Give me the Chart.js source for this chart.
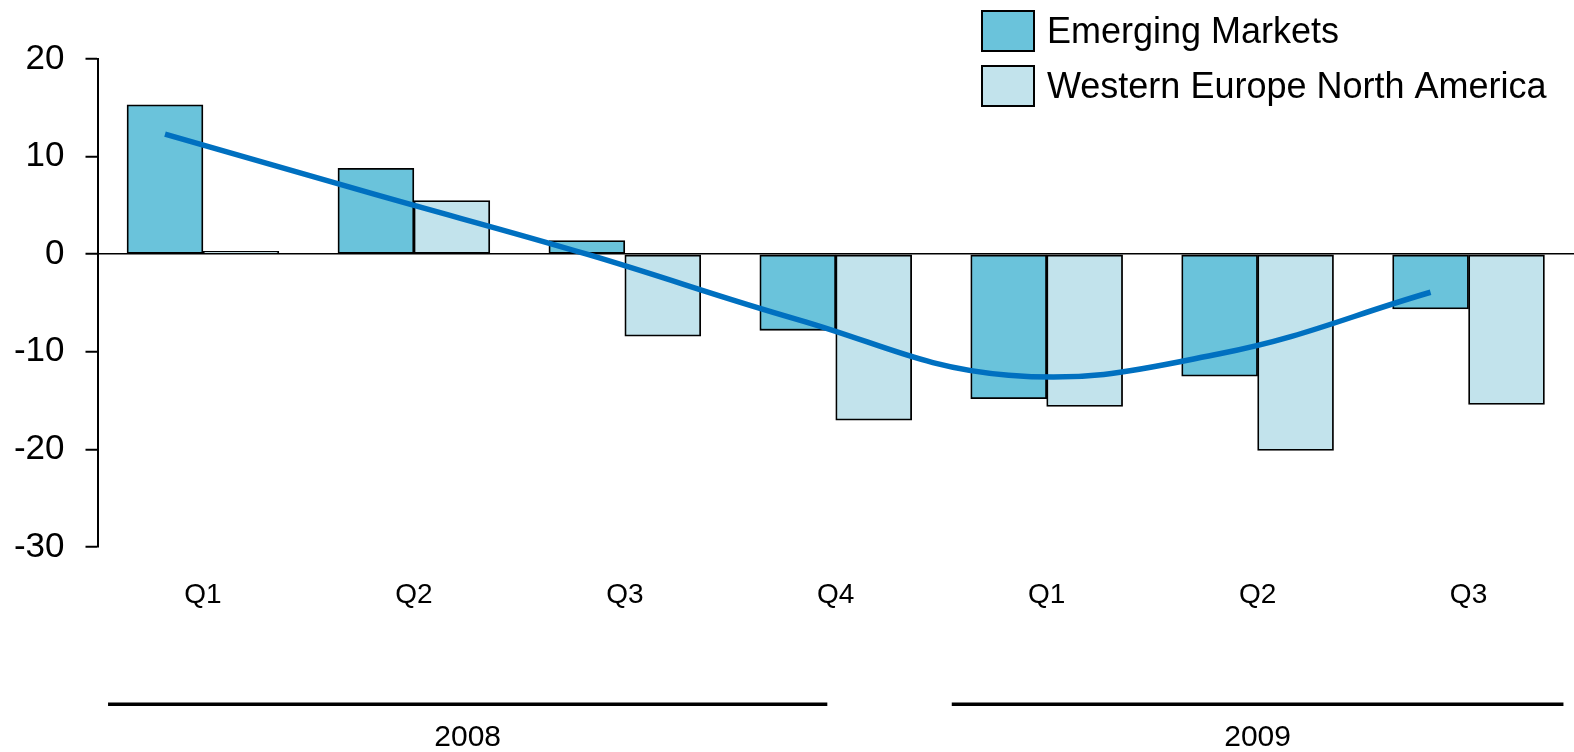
<!DOCTYPE html>
<html>
<head>
<meta charset="utf-8">
<title>Emerging Markets vs Western Europe / North America</title>
<script src="https://cdn.jsdelivr.net/npm/chart.js@4"></script>
<style>
  html, body { margin: 0; padding: 0; background: #ffffff; }
  #wrap { position: relative; width: 1574px; height: 752px; }
</style>
</head>
<body>
<div id="wrap"><canvas id="chart"></canvas></div>
<script>
// Quarterly change, %
const quarters = ['Q1', 'Q2', 'Q3', 'Q4', 'Q1', 'Q2', 'Q3'];
const years = ['2008', '2009'];
const emergingMarkets = [15.3, 8.8, 1.4, -7.8, -14.8, -12.5, -5.6];
const westernEuropeNorthAmerica = [0.3, 5.5, -8.4, -17.0, -15.6, -20.1, -15.4];
const trend = [12.3, 6.1, 0.0, -6.7, -12.4, -10.2, -3.9];
const yTicks = [20, 10, 0, -10, -20, -30];

const FONT = "'Liberation Sans', Arial, sans-serif";
const EM_COLOR = '#6ac3db';
const WENA_COLOR = '#c2e3ec';
const TREND_COLOR = '#0070c0';

// each quarter holds a pair of bars filling this share of its slot
const PAIR_SHARE = 0.72;
const half = PAIR_SHARE / 4;
const atSlot = (values, shift) => values.map((v, i) => ({ x: i + shift, y: v }));

// year groups underneath the quarter labels: [first, last] in category units
const yearSpans = [[-0.45, 2.96], [3.55, 6.45]];

const yearAxisPlugin = {
  id: 'yearAxis',
  afterDraw(chart) {
    const ctx = chart.ctx;
    const x = chart.scales.x;
    const step = x.getPixelForValue(1) - x.getPixelForValue(0);
    const x0 = x.getPixelForValue(0);
    ctx.save();
    years.forEach((yr, k) => {
      const a = x0 + yearSpans[k][0] * step;
      const b = x0 + yearSpans[k][1] * step;
      ctx.fillStyle = '#000';
      ctx.fillRect(a, 702.5, b - a, 3.5);
      ctx.font = '30px ' + FONT;
      ctx.textAlign = 'center';
      ctx.textBaseline = 'middle';
      ctx.fillText(yr, (a + b) / 2, 738);
    });
    ctx.restore();
  }
};

const legendPlugin = {
  id: 'boxLegend',
  afterDraw(chart) {
    const ctx = chart.ctx;
    const items = chart.data.datasets.filter(d => d.type === 'bar');
    ctx.save();
    items.forEach((d, k) => {
      const top = 11 + k * 55;
      ctx.fillStyle = d.backgroundColor;
      ctx.fillRect(982, top, 52, 40);
      ctx.lineWidth = 2;
      ctx.strokeStyle = '#000';
      ctx.strokeRect(982, top, 52, 40);
      ctx.fillStyle = '#000';
      ctx.font = '36px ' + FONT;
      ctx.textAlign = 'left';
      ctx.textBaseline = 'middle';
      ctx.fillText(d.label, 1047, top + 22);
    });
    ctx.restore();
  }
};

const slotAxis = {
  type: 'linear',
  display: false,
  offset: false,
  min: -0.5,
  max: quarters.length - 0.5,
  afterBuildTicks(scale) { scale.ticks = quarters.map((q, i) => ({ value: i })); }
};

const barStyle = {
  type: 'bar',
  xAxisID: 'xb',
  borderColor: '#000',
  borderWidth: 1.8,
  borderSkipped: false,
  grouped: false,
  categoryPercentage: 1,
  barPercentage: 1,
  order: 1
};

new Chart(document.getElementById('chart'), {
  data: {
    labels: quarters,
    datasets: [
      {
        type: 'line',
        label: 'Trend',
        data: atSlot(trend, -half),
        xAxisID: 'xb',
        borderColor: TREND_COLOR,
        borderWidth: 5.5,
        borderCapStyle: 'butt',
        tension: 0.4,
        pointRadius: 0,
        fill: false,
        order: 0
      },
      Object.assign({}, barStyle, {
        label: 'Emerging Markets',
        data: atSlot(emergingMarkets, -half),
        backgroundColor: EM_COLOR
      }),
      Object.assign({}, barStyle, {
        label: 'Western Europe North America',
        data: atSlot(westernEuropeNorthAmerica, half),
        backgroundColor: WENA_COLOR
      })
    ]
  },
  options: {
    responsive: true,
    maintainAspectRatio: false,
    animation: false,
    layout: { padding: { top: 59, right: 0, bottom: 0, left: 0 } },
    plugins: {
      legend: { display: false },
      tooltip: { enabled: false },
      title: { display: false }
    },
    scales: {
      x: {
        type: 'category',
        offset: true,
        grid: { display: false, drawTicks: false },
        border: { display: false },
        ticks: {
          color: '#000',
          font: { family: FONT, size: 28 },
          padding: 31,
          maxRotation: 0
        },
        afterFit(scale) { scale.height = 205; }
      },
      xb: slotAxis,
      y: {
        min: -30,
        max: 20,
        afterBuildTicks(scale) { scale.ticks = yTicks.map(v => ({ value: v })); },
        ticks: {
          color: '#000',
          font: { family: FONT, size: 35 },
          padding: 21
        },
        grid: {
          drawOnChartArea: true,
          color: ctx => (ctx.tick && ctx.tick.value === 0) ? '#000' : 'rgba(0,0,0,0)',
          lineWidth: 1.5,
          tickColor: '#000',
          tickLength: 12,
          tickWidth: 2
        },
        border: { display: true, color: '#000', width: 2 },
        afterFit(scale) { scale.width = 97.5; }
      }
    }
  },
  plugins: [yearAxisPlugin, legendPlugin]
});
</script>
</body>
</html>
